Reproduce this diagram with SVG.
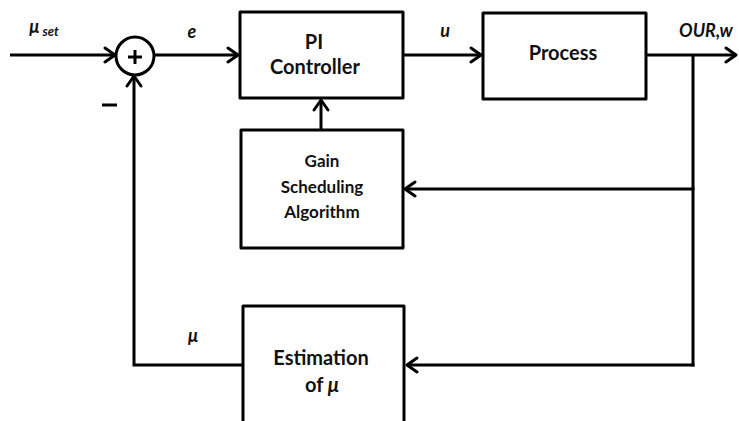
<svg xmlns="http://www.w3.org/2000/svg" width="739" height="421" viewBox="0 0 739 421">
  <defs>
    <marker id="arr" viewBox="-12 -9 14 18" markerWidth="14" markerHeight="18" refX="0" refY="0" orient="auto" markerUnits="userSpaceOnUse">
      <path d="M-10,-7 L0,0 L-10,7" fill="none" stroke="#000" stroke-width="3" stroke-linecap="round" stroke-linejoin="round"/>
    </marker>
    <style>
      .box { fill: #fff; stroke: #000; stroke-width: 3; stroke-linejoin: round; }
      .ln { fill: none; stroke: #000; stroke-width: 3; stroke-linejoin: miter; }
      .t { font-family: Lato, "Open Sans", "Liberation Sans", sans-serif; font-weight: bold; font-size: 20px; fill: #111; text-anchor: middle; }
      .ts { font-size: 17px; }
      .lb { font-family: Lato, "Open Sans", "Liberation Sans", sans-serif; font-weight: bold; font-style: italic; font-size: 18px; fill: #111; text-anchor: middle; }
    </style>
  </defs>
  <rect width="739" height="421" fill="#fff"/>

  <g id="connectors">
    <line class="ln" x1="10" y1="55" x2="115" y2="55" marker-end="url(#arr)"/>
    <line class="ln" x1="154" y1="55" x2="238" y2="55" marker-end="url(#arr)"/>
    <line class="ln" x1="403" y1="55" x2="481" y2="55" marker-end="url(#arr)"/>
    <line class="ln" x1="646" y1="55" x2="736" y2="55" marker-end="url(#arr)"/>
    <line class="ln" x1="693" y1="55" x2="693" y2="366.5"/>
    <line class="ln" x1="694.5" y1="189" x2="405" y2="189" marker-end="url(#arr)"/>
    <line class="ln" x1="694.5" y1="365" x2="407" y2="365" marker-end="url(#arr)"/>
    <polyline class="ln" points="243,365 134,365 134,76" marker-end="url(#arr)"/>
    <line class="ln" x1="321" y1="130" x2="321" y2="100" marker-end="url(#arr)"/>
  </g>

  <g id="sum">
    <circle cx="135" cy="56" r="19" fill="#fff" stroke="#000" stroke-width="3"/>
    <line x1="128" y1="57" x2="142" y2="57" stroke="#000" stroke-width="3"/>
    <line x1="135" y1="50" x2="135" y2="64" stroke="#000" stroke-width="3"/>
  </g>

  <g id="pi-controller">
    <rect class="box" x="240" y="12" width="163" height="86"/>
    <text class="t" x="314" y="49">PI</text>
    <text class="t" x="315" y="74">Controller</text>
  </g>

  <g id="process">
    <rect class="box" x="483" y="13" width="163" height="86"/>
    <text class="t" x="563" y="60">Process</text>
  </g>

  <g id="gain-scheduling">
    <rect class="box" x="241" y="130" width="162" height="118"/>
    <text class="t ts" x="322" y="167">Gain</text>
    <text class="t ts" x="322" y="193">Scheduling</text>
    <text class="t ts" x="322" y="218">Algorithm</text>
  </g>

  <g id="estimation">
    <rect class="box" x="243" y="306" width="161" height="130"/>
    <text class="t" x="321" y="365">Estimation</text>
    <text class="t" x="322" y="392">of <tspan font-style="italic">μ</tspan></text>
  </g>

  <g id="labels">
    <text class="lb" x="44" y="33">μ<tspan font-size="13" dx="3" dy="3">set</tspan></text>
    <text class="lb" x="192" y="38">e</text>
    <text class="lb" x="445" y="37">u</text>
    <text class="lb" x="706" y="37">OUR,w</text>
    <text class="lb" x="193" y="342">μ</text>
    <line x1="102" y1="105" x2="117" y2="105" stroke="#000" stroke-width="3"/>
  </g>
</svg>
